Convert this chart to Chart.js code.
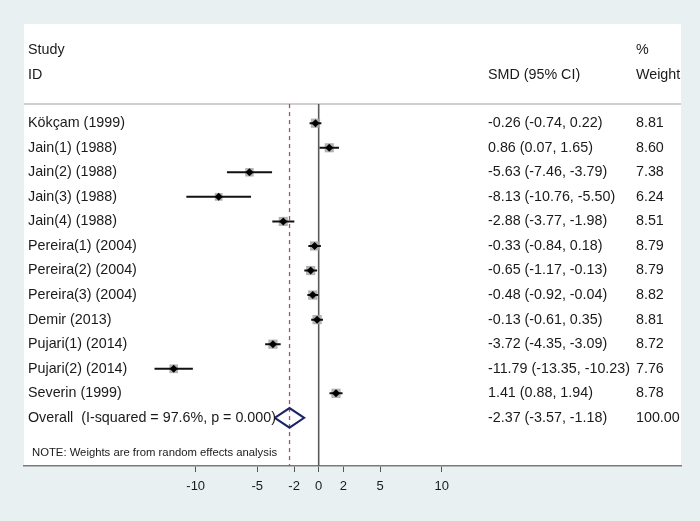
<!DOCTYPE html>
<html>
<head>
<meta charset="utf-8">
<script src="https://cdn.jsdelivr.net/npm/chart.js@4"></script>
<style>
  html, body { margin: 0; padding: 0; background: #e9f0f1; }
  #wrap { width: 700px; height: 521px; }
</style>
</head>
<body>
<div id="wrap"><canvas id="c" width="700" height="521"></canvas></div>
<script>
// ---- data ----
const studies = ["Kökçam (1999)", "Jain(1) (1988)", "Jain(2) (1988)", "Jain(3) (1988)", "Jain(4) (1988)",
  "Pereira(1) (2004)", "Pereira(2) (2004)", "Pereira(3) (2004)", "Demir (2013)", "Pujari(1) (2014)",
  "Pujari(2) (2014)", "Severin (1999)"];
const smd    = [-0.26, 0.86, -5.63, -8.13, -2.88, -0.33, -0.65, -0.48, -0.13, -3.72, -11.79, 1.41];
const ciLow  = [-0.74, 0.07, -7.46, -10.76, -3.77, -0.84, -1.17, -0.92, -0.61, -4.35, -13.35, 0.88];
const ciHigh = [0.22, 1.65, -3.79, -5.50, -1.98, 0.18, -0.13, -0.04, 0.35, -3.09, -10.23, 1.94];
const weights = [8.81, 8.60, 7.38, 6.24, 8.51, 8.79, 8.79, 8.82, 8.81, 8.72, 7.76, 8.78];
const overallLabel = "Overall  (I-squared = 97.6%, p = 0.000)";
const overall = { smd: -2.37, low: -3.57, high: -1.18, weight: 100.00 };
const xTicks = [-10, -5, -2, 0, 2, 5, 10];
const noteText = "NOTE: Weights are from random effects analysis";
const headerStudy = ["Study", "ID"];
const headerSmd = "SMD (95% CI)";
const headerWeight = ["%", "Weight"];

// ---- layout constants (scale domains) ----
const X_MIN = -23.96, X_MAX = 29.46;
const Y_MIN = -4.04, Y_MAX = 13.96;
const SEP_ROW = -0.78;
const overallRow = studies.length;

const FONT = '"Liberation Sans", Arial, sans-serif';

const ciData = [];
studies.forEach((s, i) => {
  ciData.push({ x: ciLow[i], y: i }, { x: ciHigh[i], y: i }, { x: NaN, y: NaN });
});

const diamondData = [
  { x: overall.low, y: overallRow },
  { x: overall.smd, y: overallRow - 0.4 },
  { x: overall.high, y: overallRow },
  { x: overall.smd, y: overallRow + 0.4 },
  { x: overall.low, y: overallRow }
];

const textPlugin = {
  id: 'forestText',
  beforeDraw(chart) {
    const ctx = chart.ctx, a = chart.chartArea;
    ctx.save();
    ctx.fillStyle = '#e9f0f1';
    ctx.fillRect(0, 0, chart.width, chart.height);
    ctx.fillStyle = '#ffffff';
    ctx.fillRect(a.left, a.top, a.right - a.left, a.bottom - a.top);
    ctx.restore();
  },
  afterDatasetsDraw(chart) {
    const ctx = chart.ctx, a = chart.chartArea, ys = chart.scales.y;
    const colLabel = a.left + 4, colSmd = a.left + 464, colW = a.left + 612;
    ctx.save();
    ctx.fillStyle = '#1a1a1a';
    ctx.textBaseline = 'middle';
    ctx.textAlign = 'left';
    ctx.font = '14.3px ' + FONT;
    ctx.fillText(headerStudy[0], colLabel, ys.getPixelForValue(-2.98));
    ctx.fillText(headerStudy[1], colLabel, ys.getPixelForValue(-1.96));
    ctx.fillText(headerSmd, colSmd, ys.getPixelForValue(-1.96));
    ctx.fillText(headerWeight[0], colW, ys.getPixelForValue(-2.98));
    ctx.fillText(headerWeight[1], colW, ys.getPixelForValue(-1.96));
    studies.forEach((s, i) => {
      const y = ys.getPixelForValue(i);
      ctx.fillText(s, colLabel, y);
      ctx.fillText(`${smd[i].toFixed(2)} (${ciLow[i].toFixed(2)}, ${ciHigh[i].toFixed(2)})`, colSmd, y);
      ctx.fillText(weights[i].toFixed(2), colW, y);
    });
    const yo = ys.getPixelForValue(overallRow);
    ctx.fillText(overallLabel, colLabel, yo);
    ctx.fillText(`${overall.smd.toFixed(2)} (${overall.low.toFixed(2)}, ${overall.high.toFixed(2)})`, colSmd, yo);
    ctx.fillText(overall.weight.toFixed(2), colW, yo);
    ctx.font = '11.3px ' + FONT;
    ctx.fillText(noteText, a.left + 8, ys.getPixelForValue(13.43));
    ctx.restore();
  }
};

new Chart(document.getElementById('c'), {
  type: 'scatter',
  data: {
    datasets: [
      { // point estimates
        data: smd.map((v, i) => ({ x: v, y: i })),
        pointStyle: 'rectRot', pointRadius: 4, backgroundColor: '#000', borderColor: '#000', borderWidth: 0,
        order: 0
      },
      { // overall diamond
        data: diamondData, showLine: true, borderColor: '#1b2466', borderWidth: 2, pointRadius: 0,
        fill: false, order: 1
      },
      { // confidence intervals
        data: ciData, showLine: true, spanGaps: false, borderColor: '#111', borderWidth: 2, pointRadius: 0,
        order: 2
      },
      { // weight boxes
        data: smd.map((v, i) => ({ x: v, y: i })),
        pointStyle: 'rect', pointRadius: weights.map(w => 2.2 * Math.sqrt(w)),
        backgroundColor: 'rgba(165,165,165,0.85)', borderWidth: 0, order: 3
      },
      { // overall effect dashed line
        data: [{ x: overall.smd, y: SEP_ROW }, { x: overall.smd, y: Y_MAX }], showLine: true,
        borderColor: '#a4506e', borderWidth: 1.3, borderDash: [4, 4], pointRadius: 0, order: 4
      },
      { // null line
        data: [{ x: 0, y: SEP_ROW }, { x: 0, y: Y_MAX }], showLine: true,
        borderColor: '#5a5a5a', borderWidth: 1.6, pointRadius: 0, order: 5
      },
      { // header separator
        data: [{ x: X_MIN, y: SEP_ROW }, { x: X_MAX, y: SEP_ROW }], showLine: true,
        borderColor: '#cfcfcf', borderWidth: 2, pointRadius: 0, order: 6
      }
    ]
  },
  options: {
    responsive: false,
    devicePixelRatio: 1,
    animation: false,
    events: [],
    layout: { padding: { left: 24, right: 19, top: 24, bottom: 0 } },
    plugins: { legend: { display: false }, tooltip: { enabled: false } },
    scales: {
      x: {
        type: 'linear', min: X_MIN, max: X_MAX,
        afterBuildTicks: (s) => { s.ticks = xTicks.map(v => ({ value: v })); },
        afterFit: (s) => { s.height = 55; },
        grid: { display: true, drawOnChartArea: false, drawTicks: true, tickLength: 6, color: '#555', lineWidth: 1 },
        border: { display: true, color: '#7a7a7a', width: 1.6 },
        ticks: { color: '#1a1a1a', font: { family: FONT, size: 13 }, padding: 7, autoSkip: false, maxRotation: 0 }
      },
      y: {
        type: 'linear', min: Y_MIN, max: Y_MAX, reverse: true, display: false
      }
    }
  },
  plugins: [textPlugin]
});
</script>
</body>
</html>
